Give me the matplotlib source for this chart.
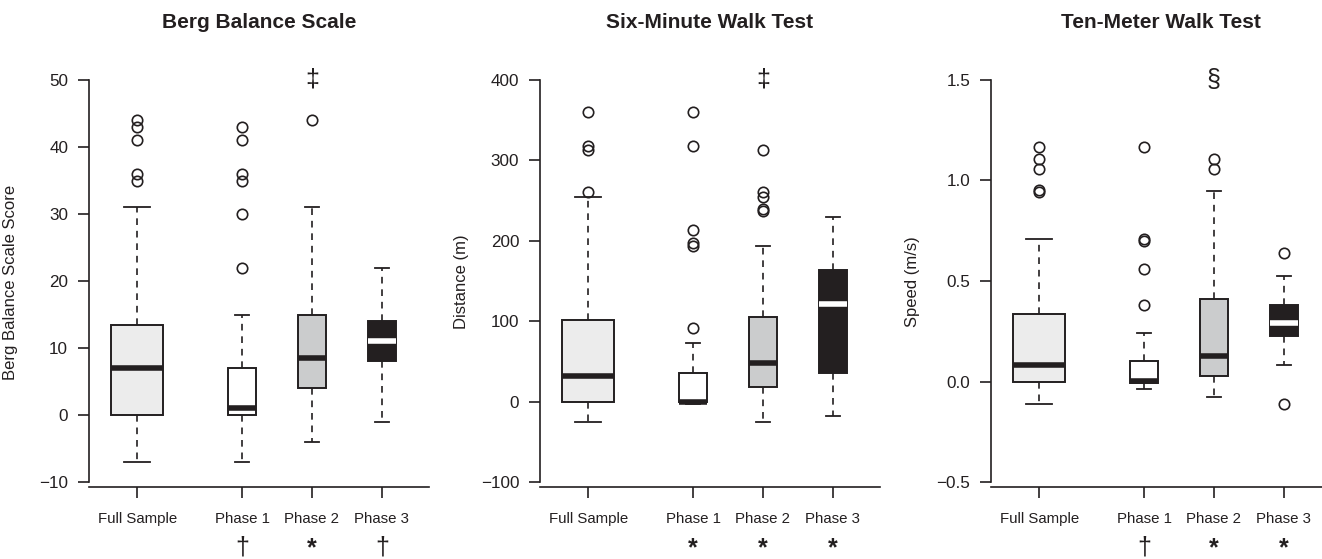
import matplotlib
matplotlib.use("Agg")
import matplotlib.pyplot as plt

plt.rcParams['font.family'] = ['Liberation Sans', 'DejaVu Sans']

groups = ["Full Sample", "Phase 1", "Phase 2", "Phase 3"]
positions = [1, 2.5, 3.5, 4.5]
widths = [0.75, 0.4, 0.4, 0.4]
fills = ["#ececec", "#ffffff", "#cbcccd", "#231f20"]
median_colors = ["#231f20", "#231f20", "#231f20", "#ffffff"]

titles = ["Berg Balance Scale", "Six-Minute Walk Test", "Ten-Meter Walk Test"]
ylabels = ["Berg Balance Scale Score", "Distance (m)", "Speed (m/s)"]
yticks = [[-10, 0, 10, 20, 30, 40, 50],
          [-100, 0, 100, 200, 300, 400],
          [-0.5, 0.0, 0.5, 1.0, 1.5]]
yticklabels = [None, None, ["\u22120.5", "0.0", "0.5", "1.0", "1.5"]]

# five-number summaries per group: whisker low, Q1, median, Q3, whisker high
bbs_stats = [(-7, 0, 7, 13.5, 31), (-7, 0, 1, 7, 15),
             (-4, 4, 8.5, 15, 31), (-1, 8, 11, 14, 22)]
bbs_out = [[44, 43, 41, 36, 35], [43, 41, 36, 35, 30, 22], [44], []]

smwt_stats = [(-25, 0, 32, 102, 254), (-3, -1, 0, 35, 73),
              (-25, 18, 48, 105, 193), (-18, 35, 121, 164, 230)]
smwt_out = [[360, 318, 313, 261], [360, 318, 214, 197, 193, 91],
            [313, 261, 255, 240, 237], []]

tmwt_stats = [(-0.113, 0.0, 0.084, 0.335, 0.707), (-0.037, -0.005, 0.003, 0.103, 0.241),
              (-0.077, 0.028, 0.129, 0.408, 0.947), (0.084, 0.225, 0.29, 0.38, 0.527)]
tmwt_out = [[1.165, 1.105, 1.055, 0.952, 0.945], [1.165, 0.708, 0.698, 0.562, 0.383],
            [1.105, 1.055], [0.637, -0.113]]

all_stats = [bbs_stats, smwt_stats, tmwt_stats]
all_out = [bbs_out, smwt_out, tmwt_out]

top_marks = ["‡", "‡", "§"]
bottom_marks = [["", "†", "*", "†"], ["", "*", "*", "*"], ["", "†", "*", "*"]]

W, H = 1322, 559
fig = plt.figure(figsize=(W / 100, H / 100), dpi=100)
ink = "#231f20"

lefts = [89, 540, 991]
for i in range(3):
    ax = fig.add_axes([lefts[i] / W, (H - 487) / H, 340 / W, 421 / H])
    lo, hi = yticks[i][0], yticks[i][-1]
    span = hi - lo
    ax.set_ylim(lo - 5 / 402 * span, hi + 14 / 402 * span)
    ax.set_xlim(1 - 48 / 69.5, 4.5 + 47 / 69.5)

    stats = []
    for g, s, o in zip(groups, all_stats[i], all_out[i]):
        stats.append(dict(label=g, whislo=s[0], q1=s[1], med=s[2], q3=s[3],
                          whishi=s[4], fliers=o))
    bp = ax.bxp(stats, positions=positions, widths=widths, patch_artist=True,
                capwidths=[w * 0.5 for w in widths],
                boxprops=dict(edgecolor=ink, linewidth=1.4),
                whiskerprops=dict(color=ink, linewidth=1.2, linestyle=(0, (4, 3.5))),
                capprops=dict(color=ink, linewidth=1.3),
                medianprops=dict(linewidth=4, solid_capstyle="butt"),
                flierprops=dict(marker="o", markersize=7.5, markerfacecolor="none",
                                markeredgecolor=ink, markeredgewidth=1.2))
    for patch, fc in zip(bp["boxes"], fills):
        patch.set_facecolor(fc)
    for med, mc in zip(bp["medians"], median_colors):
        med.set_color(mc)

    for side in ["top", "right"]:
        ax.spines[side].set_visible(False)
    ax.spines["left"].set_bounds(lo, hi)
    ax.spines["left"].set_color(ink)
    ax.spines["bottom"].set_color(ink)
    ax.spines["left"].set_linewidth(1.2)
    ax.spines["bottom"].set_linewidth(1.2)

    ax.set_yticks(yticks[i])
    if yticklabels[i] is not None:
        ax.set_yticklabels(yticklabels[i])
    ax.set_xticks(positions)
    ax.set_xticklabels(groups)
    ax.tick_params(axis="y", length=8, width=1.2, color=ink, labelsize=12.3,
                   labelcolor=ink, pad=7)
    ax.tick_params(axis="x", length=8, width=1.2, color=ink, labelsize=10.8,
                   labelcolor=ink, pad=10)

    ax.set_ylabel(ylabels[i], fontsize=12, color=ink)
    ax.yaxis.set_label_coords(-71 / 340, 0.487)
    ax.text(0.5, 1 + 44 / 421, titles[i], transform=ax.transAxes, ha="center",
            va="center", fontsize=15, fontweight="bold", color=ink)

    ax.text(positions[2], hi, top_marks[i], ha="center", va="center",
            fontsize=18, color=ink)
    for x, m in zip(positions, bottom_marks[i]):
        if m:
            ax.text(x, -61 / 421, m, transform=ax.get_xaxis_transform(),
                    ha="center", va="center", fontsize=18,
                    fontweight="bold" if m == "*" else "normal", color=ink)

fig.savefig("out.png", dpi=100)
